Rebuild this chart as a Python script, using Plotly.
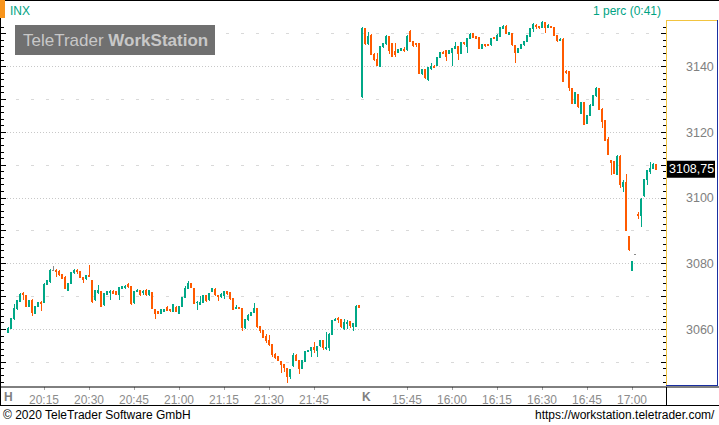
import plotly.graph_objects as go

# ---------------- data ----------------
# session 1 (Monday, "H"): 1-minute candles starting 20:03
s1_start = (20, 3)
s1_open = [3059.2, 3060.4, 3063.4, 3066.4, 3068.6, 3071.0, 3070.2, 3067.0, 3068.8, 3065.0,
           3067.0, 3068.3, 3068.3, 3073.8, 3074.6, 3078.0, 3078.1, 3077.6, 3076.6, 3075.9,
           3072.0, 3074.0, 3077.3, 3077.9, 3077.5, 3075.7, 3075.5, 3076.5, 3074.8, 3069.0,
           3071.2, 3071.5, 3067.5, 3070.7, 3071.2, 3071.7, 3071.5, 3070.7, 3072.5, 3072.8,
           3073.8, 3073.0, 3068.2, 3071.5, 3071.8, 3071.2, 3072.0, 3070.5, 3071.2, 3066.1,
           3065.4, 3064.9, 3065.4, 3066.7, 3066.1, 3065.4, 3066.7, 3065.0, 3066.9, 3069.7,
           3072.5, 3074.0, 3072.5, 3068.1, 3067.7, 3068.2, 3070.2, 3069.0, 3071.5, 3072.2,
           3070.2, 3070.0, 3070.2, 3071.5, 3071.2, 3069.5, 3066.3, 3066.7, 3066.4, 3060.6,
           3063.1, 3064.4, 3065.1, 3066.4, 3060.8, 3059.6, 3057.8, 3056.6, 3055.3, 3052.5,
           3051.7, 3050.2, 3049.2, 3048.2, 3045.6, 3048.9, 3052.2, 3050.5, 3048.1, 3050.2,
           3053.2, 3053.7, 3054.5, 3053.7, 3055.0, 3056.6, 3054.1, 3054.6, 3058.6, 3062.7,
           3063.3, 3062.9, 3060.3, 3061.7, 3062.3, 3061.0, 3061.0, 3067.4]
s1_high = [3060.9, 3063.6, 3067.7, 3069.0, 3071.0, 3071.5, 3070.6, 3069.0, 3069.2, 3067.2,
           3068.5, 3068.6, 3074.0, 3075.2, 3078.3, 3079.4, 3078.3, 3078.0, 3077.0, 3076.2,
           3074.3, 3077.6, 3078.4, 3078.3, 3077.8, 3076.0, 3076.6, 3079.6, 3075.2, 3072.0,
           3073.5, 3071.8, 3071.2, 3071.8, 3071.9, 3072.0, 3071.8, 3072.9, 3073.3, 3073.4,
           3074.0, 3073.3, 3071.8, 3072.2, 3072.0, 3071.9, 3072.3, 3072.0, 3071.5, 3066.3,
           3065.6, 3066.3, 3066.3, 3067.0, 3066.3, 3067.8, 3067.0, 3067.2, 3070.0, 3073.2,
           3074.8, 3074.3, 3072.7, 3068.6, 3070.2, 3070.4, 3070.4, 3071.2, 3072.6, 3072.5,
           3070.4, 3071.0, 3071.8, 3071.8, 3071.4, 3069.7, 3067.4, 3066.9, 3066.6, 3063.3,
           3064.6, 3065.3, 3068.0, 3066.6, 3061.0, 3059.8, 3058.6, 3058.3, 3055.5, 3052.7,
           3051.9, 3050.4, 3049.5, 3048.4, 3048.1, 3052.7, 3052.4, 3050.7, 3050.7, 3053.4,
           3053.9, 3054.7, 3056.3, 3054.9, 3056.8, 3056.8, 3059.3, 3058.8, 3062.9, 3063.4,
           3063.7, 3063.1, 3063.1, 3062.9, 3062.5, 3061.9, 3067.4, 3067.6]
s1_low = [3058.9, 3060.0, 3063.0, 3066.0, 3068.3, 3069.0, 3066.8, 3066.7, 3064.2, 3064.6,
          3066.8, 3065.7, 3068.0, 3073.5, 3074.3, 3077.8, 3076.1, 3076.3, 3075.4, 3072.3,
          3071.6, 3073.8, 3077.0, 3076.9, 3075.6, 3074.0, 3075.2, 3075.9, 3068.2, 3068.7,
          3070.8, 3066.8, 3067.2, 3070.4, 3069.0, 3070.8, 3070.5, 3069.0, 3072.2, 3072.2,
          3072.7, 3067.6, 3067.9, 3071.3, 3070.3, 3070.4, 3070.1, 3070.2, 3066.2, 3063.3,
          3064.6, 3064.7, 3065.2, 3065.6, 3065.3, 3065.2, 3065.2, 3064.8, 3066.7, 3069.5,
          3072.2, 3072.5, 3067.8, 3065.9, 3067.5, 3068.0, 3068.5, 3068.8, 3071.3, 3070.3,
          3068.8, 3069.5, 3069.2, 3070.5, 3069.0, 3065.9, 3066.1, 3066.1, 3059.6, 3060.3,
          3062.7, 3064.2, 3064.9, 3060.6, 3058.8, 3057.3, 3056.0, 3055.1, 3051.5, 3050.9,
          3050.3, 3046.8, 3047.1, 3043.6, 3044.8, 3048.5, 3050.3, 3046.6, 3047.9, 3050.0,
          3053.0, 3051.5, 3052.7, 3051.5, 3054.8, 3053.9, 3053.9, 3053.5, 3058.4, 3062.5,
          3062.1, 3060.6, 3059.8, 3060.3, 3060.6, 3059.6, 3060.8, 3066.5]
s1_close = [3060.4, 3063.4, 3066.4, 3068.8, 3070.8, 3070.5, 3067.1, 3068.8, 3065.1, 3066.9,
            3068.2, 3068.0, 3073.8, 3074.9, 3078.1, 3078.0, 3077.6, 3076.6, 3075.6, 3072.5,
            3074.0, 3077.3, 3078.1, 3077.5, 3075.9, 3075.3, 3076.3, 3076.1, 3068.5, 3071.8,
            3071.8, 3067.1, 3071.0, 3071.5, 3071.7, 3071.0, 3070.7, 3072.7, 3073.0, 3073.2,
            3073.0, 3068.0, 3071.5, 3072.0, 3070.5, 3071.7, 3070.5, 3071.8, 3066.4, 3064.9,
            3064.9, 3066.1, 3066.1, 3065.9, 3065.7, 3067.5, 3065.4, 3067.0, 3069.7, 3072.5,
            3074.0, 3072.7, 3068.0, 3068.3, 3068.2, 3070.2, 3068.8, 3071.0, 3072.4, 3070.5,
            3070.0, 3070.5, 3071.5, 3071.0, 3069.5, 3066.1, 3066.7, 3066.3, 3060.6, 3063.1,
            3064.4, 3065.1, 3066.4, 3060.8, 3059.6, 3057.5, 3056.8, 3055.3, 3052.5, 3051.5,
            3050.5, 3049.2, 3048.5, 3045.6, 3047.9, 3052.2, 3050.5, 3048.1, 3050.5, 3053.2,
            3053.7, 3054.5, 3053.9, 3054.7, 3056.6, 3054.5, 3054.5, 3058.6, 3062.7, 3062.9,
            3062.9, 3060.8, 3062.1, 3062.1, 3061.3, 3061.7, 3067.1, 3066.7]

# session 2 (Tuesday, "K"): 1-minute candles starting 15:30
s2_start = (15, 30)
s2_open = [3130.8, 3151.5, 3146.9, 3149.6, 3143.8, 3142.2, 3140.2, 3146.1, 3146.9, 3149.1,
           3146.9, 3144.6, 3144.3, 3144.9, 3145.3, 3145.1, 3150.6, 3147.6, 3146.9, 3146.9,
           3137.8, 3139.0, 3136.1, 3139.5, 3140.2, 3140.3, 3142.8, 3144.4, 3144.9, 3144.1,
           3144.3, 3145.6, 3146.1, 3144.1, 3147.3, 3146.1, 3148.6, 3150.1, 3149.1, 3148.9,
           3145.6, 3146.6, 3146.7, 3146.6, 3148.9, 3147.9, 3149.3, 3151.7, 3152.2, 3149.9,
           3150.1, 3146.3, 3144.3, 3145.6, 3146.6, 3147.6, 3149.3, 3151.5, 3152.5, 3152.2,
           3151.9, 3153.5, 3151.9, 3152.2, 3151.9, 3149.4, 3148.0, 3148.4, 3138.6, 3138.4,
           3133.2, 3128.8, 3131.6, 3125.8, 3129.1, 3122.7, 3125.2, 3128.3, 3131.1, 3133.2,
           3127.1, 3123.5, 3117.7, 3111.3, 3111.1, 3107.1, 3112.8, 3103.5, 3104.7, 3088.3,
           3078.1, 3082.9, 3094.9, 3094.6, 3100.7, 3105.7, 3108.1, 3109.1, 3110.1]
s2_high = [3152.0, 3151.8, 3150.6, 3149.9, 3144.1, 3144.3, 3146.3, 3147.0, 3149.6, 3149.3,
           3147.1, 3147.1, 3145.5, 3145.8, 3146.1, 3149.5, 3151.2, 3147.8, 3147.3, 3147.1,
           3139.2, 3139.2, 3139.9, 3141.2, 3140.4, 3143.0, 3144.6, 3144.7, 3145.1, 3145.0,
           3145.8, 3147.6, 3146.3, 3147.5, 3147.5, 3148.8, 3150.1, 3150.3, 3149.3, 3149.1,
           3146.8, 3146.8, 3146.9, 3148.8, 3149.1, 3149.8, 3152.2, 3152.7, 3152.7, 3150.5,
           3150.3, 3146.5, 3145.8, 3146.8, 3147.8, 3149.7, 3151.7, 3153.2, 3152.9, 3152.5,
           3153.8, 3153.7, 3152.9, 3152.4, 3152.1, 3149.6, 3148.6, 3148.6, 3138.9, 3138.6,
           3133.4, 3132.4, 3131.8, 3129.3, 3129.3, 3125.4, 3128.5, 3131.3, 3133.9, 3133.4,
           3127.3, 3123.7, 3118.5, 3111.6, 3111.3, 3113.0, 3113.1, 3105.5, 3107.4, 3088.5,
           3080.9, 3082.9, 3095.7, 3099.9, 3105.9, 3108.6, 3111.1, 3110.8, 3110.4]
s2_low = [3130.6, 3146.6, 3146.7, 3143.6, 3141.8, 3140.2, 3140.0, 3145.6, 3146.7, 3143.8,
          3143.0, 3143.0, 3144.1, 3144.7, 3144.6, 3144.9, 3147.4, 3146.1, 3145.9, 3137.8,
          3137.6, 3136.3, 3135.6, 3139.0, 3139.6, 3140.1, 3142.6, 3143.9, 3141.8, 3143.9,
          3140.2, 3145.4, 3142.0, 3143.9, 3146.7, 3144.1, 3148.4, 3148.7, 3148.4, 3145.4,
          3145.4, 3146.1, 3146.2, 3146.4, 3148.4, 3147.7, 3149.1, 3151.5, 3149.9, 3149.7,
          3146.4, 3141.2, 3144.1, 3145.4, 3146.4, 3147.4, 3149.1, 3150.6, 3151.6, 3151.5,
          3151.7, 3150.1, 3151.7, 3151.7, 3149.2, 3147.6, 3147.8, 3135.4, 3137.9, 3132.6,
          3128.6, 3128.6, 3127.3, 3125.6, 3122.2, 3122.5, 3125.0, 3128.1, 3130.9, 3126.9,
          3121.4, 3117.3, 3113.2, 3107.1, 3107.2, 3106.9, 3103.0, 3101.7, 3090.0, 3084.0,
          3077.9, 3082.9, 3093.7, 3091.3, 3100.3, 3104.0, 3107.4, 3108.9, 3108.5]
s2_close = [3151.5, 3146.9, 3149.1, 3143.8, 3142.2, 3140.5, 3146.1, 3146.9, 3149.1, 3144.9,
            3143.2, 3143.8, 3145.3, 3145.6, 3144.9, 3149.3, 3147.6, 3146.3, 3146.6, 3138.0,
            3139.0, 3136.7, 3139.7, 3140.0, 3139.8, 3142.8, 3144.4, 3144.1, 3143.2, 3144.8,
            3145.6, 3146.1, 3144.1, 3147.3, 3146.9, 3148.6, 3149.9, 3148.9, 3148.6, 3145.6,
            3146.6, 3146.3, 3146.4, 3148.6, 3148.6, 3149.6, 3152.0, 3152.2, 3150.1, 3150.3,
            3146.6, 3144.3, 3145.6, 3146.6, 3147.6, 3149.5, 3151.5, 3152.9, 3152.2, 3151.9,
            3153.5, 3151.9, 3152.5, 3151.9, 3149.4, 3148.1, 3148.4, 3135.6, 3138.2, 3133.6,
            3128.8, 3132.2, 3127.8, 3129.1, 3122.4, 3125.2, 3128.3, 3131.1, 3133.2, 3127.1,
            3123.4, 3117.5, 3113.4, 3110.9, 3107.4, 3112.8, 3104.0, 3104.7, 3090.1, 3084.2,
            3080.7, 3082.9, 3094.6, 3099.7, 3105.7, 3108.4, 3109.1, 3110.1, 3108.75]

tick_labels = ["20:15", "20:30", "20:45", "21:00", "21:15", "21:30", "21:45",
               "15:45", "16:00", "16:15", "16:30", "16:45", "17:00"]
day_labels = ["H", "K"]
price_ticks = [3060, 3080, 3100, 3120, 3140]
half_ticks = [3050, 3070, 3090, 3110, 3130, 3150]
y_range = [3042.8, 3154.2]

# ---------------- build ----------------
def minutes(start, n):
    h, m = start
    out = []
    for k in range(n):
        t = h * 60 + m + k
        out.append("%02d:%02d" % ((t // 60) % 24, t % 60))
    return out

opens = s1_open + s2_open
highs = s1_high + s2_high
lows = s1_low + s2_low
closes = s1_close + s2_close
times = minutes(s1_start, len(s1_open)) + minutes(s2_start, len(s2_open))
xs = list(range(len(opens)))
tickvals = [times.index(t) for t in tick_labels]
k_pos = len(s1_open)

GREEN = "#00A887"
ORANGE = "#FF5A00"
GRAY = "#8A8A8A"
TEAL = "#00A383"
FONT = "Liberation Sans, Arial, sans-serif"

W, H = 719, 425
L, R, T, B = 1, 53, 20, 39
PW, PH = W - L - R, H - T - B
PB = H - B  # plot bottom pixel


def fx(px):
    return (px - L) / PW


def fy(py):
    return (PB - py) / PH


fig = go.Figure()
groups = [
    ([i for i in xs if closes[i] > opens[i]], GREEN),
    ([i for i in xs if closes[i] < opens[i]], ORANGE),
    ([i for i in xs if closes[i] == opens[i]], GRAY),
]
for idx, col in groups:
    fig.add_trace(go.Candlestick(
        x=idx,
        open=[opens[i] for i in idx], high=[highs[i] for i in idx],
        low=[lows[i] for i in idx], close=[closes[i] for i in idx],
        increasing=dict(line=dict(color=col, width=1), fillcolor=col),
        decreasing=dict(line=dict(color=col, width=1), fillcolor=col),
        whiskerwidth=0, hoverinfo="skip", showlegend=False,
    ))

# dummy traces so the helper axes are drawn
fig.add_trace(go.Scatter(x=[None], y=[None], yaxis="y2", showlegend=False, hoverinfo="skip"))
fig.add_trace(go.Scatter(x=[None], y=[None], yaxis="y3", showlegend=False, hoverinfo="skip"))

x_range = [(L - 8) / 3, (L + PW - 8) / 3]

fig.update_layout(
    width=W, height=H,
    margin=dict(l=L, r=R, t=T, b=B, pad=0),
    paper_bgcolor="white", plot_bgcolor="white",
    showlegend=False, hovermode=False,
    boxgap=0.45, boxgroupgap=0,
    font=dict(family=FONT),
    xaxis=dict(
        range=x_range, fixedrange=True,
        tickmode="array", tickvals=tickvals, ticktext=tick_labels,
        ticks="outside", ticklen=3, tickcolor="#A0A0A0", tickwidth=1,
        tickfont=dict(family=FONT, size=12, color="#8C8C8C"),
        showgrid=False, zeroline=False, showline=False,
        rangeslider=dict(visible=False),
    ),
    yaxis=dict(
        side="right", range=y_range, fixedrange=True, anchor="x",
        tickmode="array", tickvals=price_ticks, ticktext=[str(v) for v in price_ticks],
        ticks="inside", ticklen=5, tickcolor="black", tickwidth=1,
        tickfont=dict(family=FONT, size=12.5, color="#808080"),
        ticklabelstandoff=19,
        showgrid=True, gridcolor="#C8C8C8", gridwidth=1, griddash="1px,2px",
        zeroline=False, showline=False,
        minor=dict(tick0=3040, dtick=2, ticks="inside", ticklen=3,
                   tickcolor="black", tickwidth=1, showgrid=False),
    ),
    yaxis2=dict(
        overlaying="y", side="right", anchor="x", range=y_range, fixedrange=True,
        tickmode="array", tickvals=half_ticks,
        ticks="inside", ticklen=5, tickcolor="black", tickwidth=1,
        showticklabels=False,
        showgrid=True, gridcolor="#D9D9D9", gridwidth=1, griddash="3px,12px",
        zeroline=False, showline=False,
    ),
    yaxis3=dict(
        overlaying="y", side="left", anchor="x", range=y_range, fixedrange=True,
        tickmode="linear", tick0=3040, dtick=10,
        ticks="inside", ticklen=5, tickcolor="black", tickwidth=1,
        showticklabels=False, showgrid=False, zeroline=False, showline=False,
        minor=dict(tick0=3040, dtick=2, ticks="inside", ticklen=3,
                   tickcolor="black", tickwidth=1, showgrid=False),
    ),
)

shapes = []


def pline(x0, y0, x1, y1, color, width=1):
    shapes.append(dict(type="line", xref="paper", yref="paper",
                       x0=fx(x0), y0=fy(y0), x1=fx(x1), y1=fy(y1),
                       line=dict(color=color, width=width), layer="above"))


def prect(x0, y0, x1, y1, color):
    shapes.append(dict(type="rect", xref="paper", yref="paper",
                       x0=fx(x0), y0=fy(y0), x1=fx(x1), y1=fy(y1),
                       fillcolor=color, line=dict(width=0), layer="above"))


# frame
pline(0, 0.5, W, 0.5, "black")
pline(0.5, 0, 0.5, 405.5, "black")
prect(0, 0, 5, 18, "#F7941D")
# price-axis panel
pline(666.5, 20, 666.5, 386, "#F2C440")
pline(666, 20.5, 717, 20.5, "#F2C440")
pline(717.5, 20, 717.5, 386, "#1A2FA0")
pline(666, 385.5, 718, 385.5, "#1A2FA0")
# bottom rows
pline(0, 387, W, 387, "black")
pline(0, 405.5, W, 405.5, "black")
pline(666.5, 387, 666.5, 405.5, "black")
# watermark box
prect(15, 25, 215, 55, "#707070")

last = closes[-1]
shapes.append(dict(type="rect", xref="paper", yref="y",
                   x0=fx(667), x1=fx(715), y0=last - 2.6, y1=last + 2.6,
                   fillcolor="black", line=dict(width=0), layer="above"))
fig.update_layout(shapes=shapes)

ann = [
    dict(text="INX", x=fx(8), y=fy(10.5), xanchor="left", yanchor="middle",
         font=dict(size=12, color=TEAL)),
    dict(text="1 perc (0:41)", x=fx(663), y=fy(11), xanchor="right", yanchor="middle",
         font=dict(size=12, color=TEAL)),
    dict(text="TeleTrader <b>WorkStation</b>", x=fx(115), y=fy(40.5), xanchor="center",
         yanchor="middle", font=dict(size=17, color="#C8C8C8")),
    dict(text="© 2020 TeleTrader Software GmbH", x=fx(1), y=fy(415), xanchor="left",
         yanchor="middle", font=dict(size=12, color="black")),
    dict(text="https://workstation.teletrader.com/", x=fx(717), y=fy(415), xanchor="right",
         yanchor="middle", font=dict(size=12, color="black")),
    dict(text="<b>%s</b>" % day_labels[0], x=fx(2), y=fy(396.5), xanchor="left",
         yanchor="middle", font=dict(size=12, color="#808080")),
]
for a in ann:
    a.update(xref="paper", yref="paper", showarrow=False)
ann.append(dict(text="<b>%s</b>" % day_labels[1], x=k_pos - 0.6, y=fy(396.5), xref="x",
                yref="paper", xanchor="left", yanchor="middle", showarrow=False,
                font=dict(size=12, color="#808080")))
ann.append(dict(text=("%.2f" % last).replace(".", ","), x=fx(691), y=last, xref="paper",
                yref="y", xanchor="center", yanchor="middle", showarrow=False,
                font=dict(size=12.5, color="white")))
fig.update_layout(annotations=ann)

post = (
    "document.body.style.margin='0';document.body.style.overflow='hidden';"
    "document.querySelectorAll('.trace.boxes path').forEach(function(p){"
    "p.style.shapeRendering='crispEdges';});"
)
fig.write_html("out.html", config={"displayModeBar": False}, post_script=post)
